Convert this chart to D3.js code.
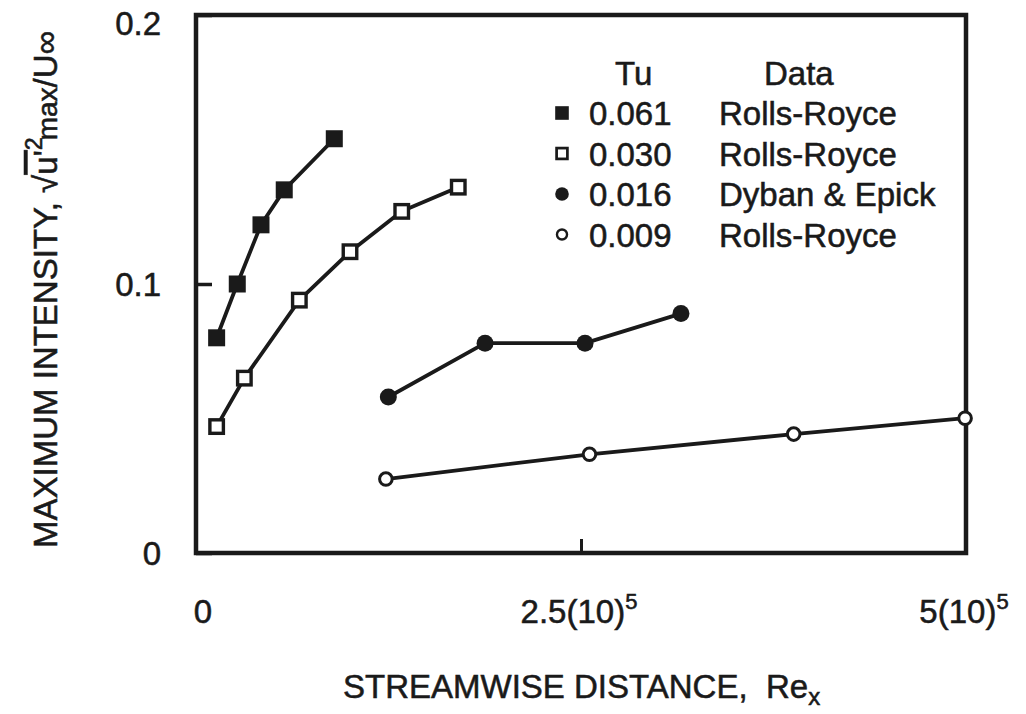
<!DOCTYPE html>
<html>
<head>
<meta charset="utf-8">
<script src="https://cdn.jsdelivr.net/npm/d3@7"></script>
<style>
  html, body { margin: 0; padding: 0; background: #ffffff; }
  svg { display: block; }
  text { font-family: "Liberation Sans", Arial, Helvetica, sans-serif; fill: #1a1a1a; stroke: #1a1a1a; stroke-width: 0.55px; }
</style>
</head>
<body>
<svg id="chart" width="1026" height="714"></svg>
<script>
// Maximum intensity of streamwise velocity fluctuation vs. Reynolds number
const tuLabels   = ["0.061", "0.030", "0.016", "0.009"];
const sources    = ["Rolls-Royce", "Rolls-Royce", "Dyban & Epick", "Rolls-Royce"];
const markerKind = ["squareFilled", "squareOpen", "circleFilled", "circleOpen"];

const re061 = [13400, 26800, 42200, 57300, 89800];
const u061  = [0.080, 0.100, 0.122, 0.135, 0.154];
const re030 = [13400, 31400, 67100, 100000, 133600, 170300];
const u030  = [0.047, 0.065, 0.094, 0.112, 0.127, 0.136];
const re016 = [124900, 187700, 252600, 314900];
const u016  = [0.058, 0.078, 0.078, 0.089];
const re009 = [123300, 255500, 388100, 499400];
const u009  = [0.0275, 0.0367, 0.0442, 0.0501];

const yTicks = [0, 0.1, 0.2];
const yTickLabels = ["0", "0.1", "0.2"];
const xTicks = [0, 250000, 500000];
const xTickMantissa = ["0", "2.5(10)", "5(10)"];
const xTickExponent = ["", "5", "5"];

const series = [
  { re: re061, u: u061 },
  { re: re030, u: u030 },
  { re: re016, u: u016 },
  { re: re009, u: u009 }
].map((s, i) => ({
  kind: markerKind[i],
  points: s.re.map((r, j) => ({ re: r, u: s.u[j] }))
}));

const ink = "#1a1a1a";
const fs = 33;
const svg = d3.select("#chart");

const x = d3.scaleLinear().domain([0, 500000]).range([196, 966]);
const y = d3.scaleLinear().domain([0, 0.2]).range([553, 15]);

// frame
svg.append("rect")
  .attr("x", x.range()[0]).attr("y", y.range()[1])
  .attr("width", x.range()[1] - x.range()[0])
  .attr("height", y.range()[0] - y.range()[1])
  .attr("fill", "none").attr("stroke", ink).attr("stroke-width", 4.5);

// y axis: inward ticks, labels on the left
const yAxis = svg.append("g")
  .attr("transform", `translate(${x.range()[0]},0)`)
  .call(d3.axisLeft(y).tickValues(yTicks).tickSizeInner(-16).tickSizeOuter(0)
    .tickPadding(35).tickFormat((d, i) => yTickLabels[i]));
yAxis.select(".domain").remove();
yAxis.selectAll(".tick line").attr("stroke", ink).attr("stroke-width", 3.5);
yAxis.selectAll(".tick text")
  .attr("font-size", fs).attr("fill", ink)
  .attr("font-family", '"Liberation Sans", Arial, sans-serif')
  .attr("dy", (d) => d === 0.2 ? "0.6em" : "0.35em");

// x axis: inward ticks
const xAxis = svg.append("g")
  .attr("transform", `translate(0,${y.range()[0]})`)
  .call(d3.axisBottom(x).tickValues(xTicks).tickSizeInner(-14).tickSizeOuter(0).tickFormat(""));
xAxis.select(".domain").remove();
xAxis.selectAll(".tick line").attr("stroke", ink).attr("stroke-width", 3);

// x tick labels with powers of ten
const xLab = svg.append("g").selectAll("text")
  .data(xTicks)
  .join("text")
  .attr("x", (d, i) => x(d) + (i === 0 ? 7 : -2))
  .attr("y", 623)
  .attr("text-anchor", "middle")
  .attr("font-size", fs);
xLab.append("tspan").text((d, i) => xTickMantissa[i]);
xLab.append("tspan")
  .attr("font-size", 22).attr("dy", -14)
  .text((d, i) => xTickExponent[i]);

// axis titles
const xTitle = svg.append("text")
  .attr("x", 343).attr("y", 698)
  .attr("font-size", fs)
  .attr("xml:space", "preserve");
xTitle.append("tspan").text("STREAMWISE DISTANCE,  Re");
xTitle.append("tspan").attr("font-size", 24).attr("dy", 7).text("x");

const yTitle = svg.append("text")
  .attr("transform", "translate(57,548) rotate(-90)")
  .attr("font-size", fs);
yTitle.append("tspan").text("MAXIMUM INTENSITY, ");
yTitle.append("tspan").text("\u221A");
yTitle.append("tspan").style("text-decoration", "overline").text("u'");
yTitle.append("tspan").attr("font-size", 23).attr("dy", -15).text("2");
yTitle.append("tspan").attr("font-size", 28).attr("dy", 15).attr("dx", -3).text("max");
yTitle.append("tspan").text("/U\u221E");

// connecting lines
const line = d3.line().x(d => x(d.re)).y(d => y(d.u));
svg.append("g").selectAll("path")
  .data(series)
  .join("path")
  .attr("d", s => line(s.points))
  .attr("fill", "none").attr("stroke", ink).attr("stroke-width", 3.8)
  .attr("stroke-linejoin", "round");

// marker drawing
function drawMarker(sel, kind, scale) {
  if (kind === "squareFilled") {
    const s = 17 * scale;
    sel.append("rect").attr("x", -s / 2).attr("y", -s / 2).attr("width", s).attr("height", s)
      .attr("fill", ink);
  } else if (kind === "squareOpen") {
    const s = 13.5 * scale;
    sel.append("rect").attr("x", -s / 2).attr("y", -s / 2).attr("width", s).attr("height", s)
      .attr("fill", "#fff").attr("stroke", ink).attr("stroke-width", 3.4 * scale);
  } else if (kind === "circleFilled") {
    sel.append("circle").attr("r", 8.5 * scale).attr("fill", ink);
  } else {
    sel.append("circle").attr("r", 6.3 * scale)
      .attr("fill", "#fff").attr("stroke", ink).attr("stroke-width", 3 * scale);
  }
}

series.forEach(s => {
  svg.append("g").selectAll("g")
    .data(s.points)
    .join("g")
    .attr("transform", d => `translate(${x(d.re)},${y(d.u)})`)
    .each(function () { drawMarker(d3.select(this), s.kind, 1); });
});

// legend
const legend = svg.append("g");
legend.append("text").attr("x", 615).attr("y", 85).attr("font-size", fs).text("Tu");
legend.append("text").attr("x", 764).attr("y", 85).attr("font-size", fs).text("Data");
const rows = legend.selectAll("g.row")
  .data(tuLabels)
  .join("g")
  .attr("class", "row")
  .attr("transform", (d, i) => `translate(0,${125 + i * 40.5})`);
rows.each(function (d, i) {
  const g = d3.select(this).append("g").attr("transform", "translate(562,-12)");
  drawMarker(g, markerKind[i], 0.8);
});
rows.append("text").attr("x", 589).attr("font-size", fs).text(d => d);
rows.append("text").attr("x", 719).attr("font-size", fs).text((d, i) => sources[i]);
</script>
</body>
</html>
